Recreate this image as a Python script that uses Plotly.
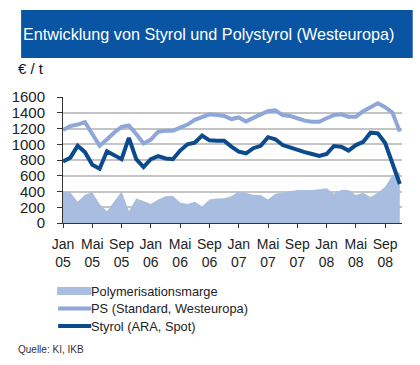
import plotly.graph_objects as go

months = list(range(47))  # Jan 2005 .. Nov 2008, monthly index
ps = [1180, 1230, 1250, 1280, 1130, 980, 1060, 1150, 1220, 1240, 1130, 1010,
      1060, 1160, 1170, 1170, 1210, 1250, 1310, 1350, 1380, 1370, 1360, 1320,
      1340, 1290, 1340, 1380, 1420, 1430, 1370, 1360, 1330, 1300, 1286, 1286,
      1330, 1370, 1380, 1350, 1350, 1420, 1470, 1520, 1470, 1400, 1160]
styrol = [780, 830, 980, 900, 740, 690, 910, 860, 810, 1080, 810, 710,
          810, 850, 820, 810, 920, 1000, 1020, 1110, 1050, 1045, 1045, 970,
          905, 885, 950, 980, 1090, 1063, 990, 960, 927, 900, 876, 851,
          876, 978, 969, 920, 990, 1030, 1147, 1139, 1015, 758, 495]
marge = [400, 390, 270, 360, 390, 240, 150, 280, 400, 150, 310, 280,
         240, 300, 340, 345, 260, 240, 270, 210, 300, 310, 315, 340,
         400, 380, 360, 355, 300, 370, 385, 400, 420, 420, 420, 430,
         440, 370, 420, 420, 355, 385, 330, 385, 460, 610, 640]

series_names = ["Polymerisationsmarge", "PS (Standard, Westeuropa)", "Styrol (ARA, Spot)"]
series_colors = ["#a9bde0", "#8ea6d8", "#0c4a8e"]

tick_vals = [0, 4, 8, 12, 16, 20, 24, 28, 32, 36, 40, 44]
tick_text = ["Jan<br>05", "Mai<br>05", "Sep<br>05", "Jan<br>06", "Mai<br>06", "Sep<br>06",
             "Jan<br>07", "Mai<br>07", "Sep<br>07", "Jan<br>08", "Mai<br>08", "Sep<br>08"]
y_ticks = [0, 200, 400, 600, 800, 1000, 1200, 1400, 1600]

FONT = "Arial, Liberation Sans, sans-serif"

fig = go.Figure()
fig.add_trace(go.Scatter(x=months, y=marge, name=series_names[0], mode="lines",
                         line=dict(width=0, color=series_colors[0]), fill="tozeroy",
                         fillcolor=series_colors[0]))
fig.add_trace(go.Scatter(x=months, y=ps, name=series_names[1], mode="lines",
                         line=dict(width=4, color=series_colors[1])))
fig.add_trace(go.Scatter(x=months, y=styrol, name=series_names[2], mode="lines",
                         line=dict(width=4, color=series_colors[2])))

W, H = 420, 365
L, R, T, B = 54, 402, 97, 223
pw, ph = R - L, B - T
def px(x):
    return (x - L) / pw
def py(y):
    return (B - y) / ph

# title bar
fig.add_shape(type="rect", xref="paper", yref="paper",
              x0=px(11), x1=px(413), y0=py(58), y1=py(10),
              fillcolor="#0a55a3", line=dict(width=0), layer="below")
fig.add_annotation(xref="paper", yref="paper", x=px(11), y=py(34), xanchor="left", yanchor="middle",
                   text="Entwicklung von Styrol und Polystyrol (Westeuropa)", showarrow=False,
                   font=dict(family=FONT, size=16.2, color="white"))
fig.add_annotation(xref="paper", yref="paper", x=px(6), y=py(69), xanchor="left", yanchor="middle",
                   text="€ / t", showarrow=False,
                   font=dict(family=FONT, size=15, color="#111111"))
fig.add_annotation(xref="paper", yref="paper", x=px(6), y=py(349), xanchor="left", yanchor="middle",
                   text="Quelle: KI, IKB", showarrow=False,
                   font=dict(family=FONT, size=10, color="#333333"))

# legend (drawn manually for exact spacing)
leg_y = [291, 308.5, 326]
fig.add_shape(type="rect", xref="paper", yref="paper",
              x0=px(48), x1=px(83), y0=py(leg_y[0] + 4), y1=py(leg_y[0] - 4),
              fillcolor=series_colors[0], line=dict(width=0))
for i in (1, 2):
    fig.add_shape(type="line", xref="paper", yref="paper",
                  x0=px(49), x1=px(83), y0=py(leg_y[i]), y1=py(leg_y[i]),
                  line=dict(color=series_colors[i], width=4))
for i in range(3):
    fig.add_annotation(xref="paper", yref="paper", x=px(81), y=py(leg_y[i]), xanchor="left",
                       yanchor="middle", text=series_names[i], showarrow=False,
                       font=dict(family=FONT, size=12.8, color="#222222"))

fig.update_layout(
    width=W, height=H,
    margin=dict(l=L, r=W - R, t=T, b=H - B, pad=0),
    paper_bgcolor="white", plot_bgcolor="white",
    font=dict(family=FONT, color="#222222"),
    showlegend=False,
    xaxis=dict(range=[0, 46.3], tickvals=tick_vals, ticktext=tick_text,
               showgrid=False, zeroline=False, showline=True, linecolor="#333333", linewidth=1,
               ticks="outside", ticklen=4, tickcolor="#333333",
               tickfont=dict(family=FONT, size=14, color="#222222"), ticklabelstandoff=4),
    yaxis=dict(range=[0, 1600], tickvals=y_ticks,
               showgrid=True, gridcolor="#c4c4c4", gridwidth=1.5, zeroline=False,
               showline=True, linecolor="#333333", linewidth=1,
               ticks="outside", ticklen=5, tickcolor="#333333", ticklabelstandoff=9,
               tickfont=dict(family=FONT, size=15, color="#222222")),
)

fig.write_html("out.html", config={"displayModeBar": False},
               post_script="document.body.style.margin='0px';")
